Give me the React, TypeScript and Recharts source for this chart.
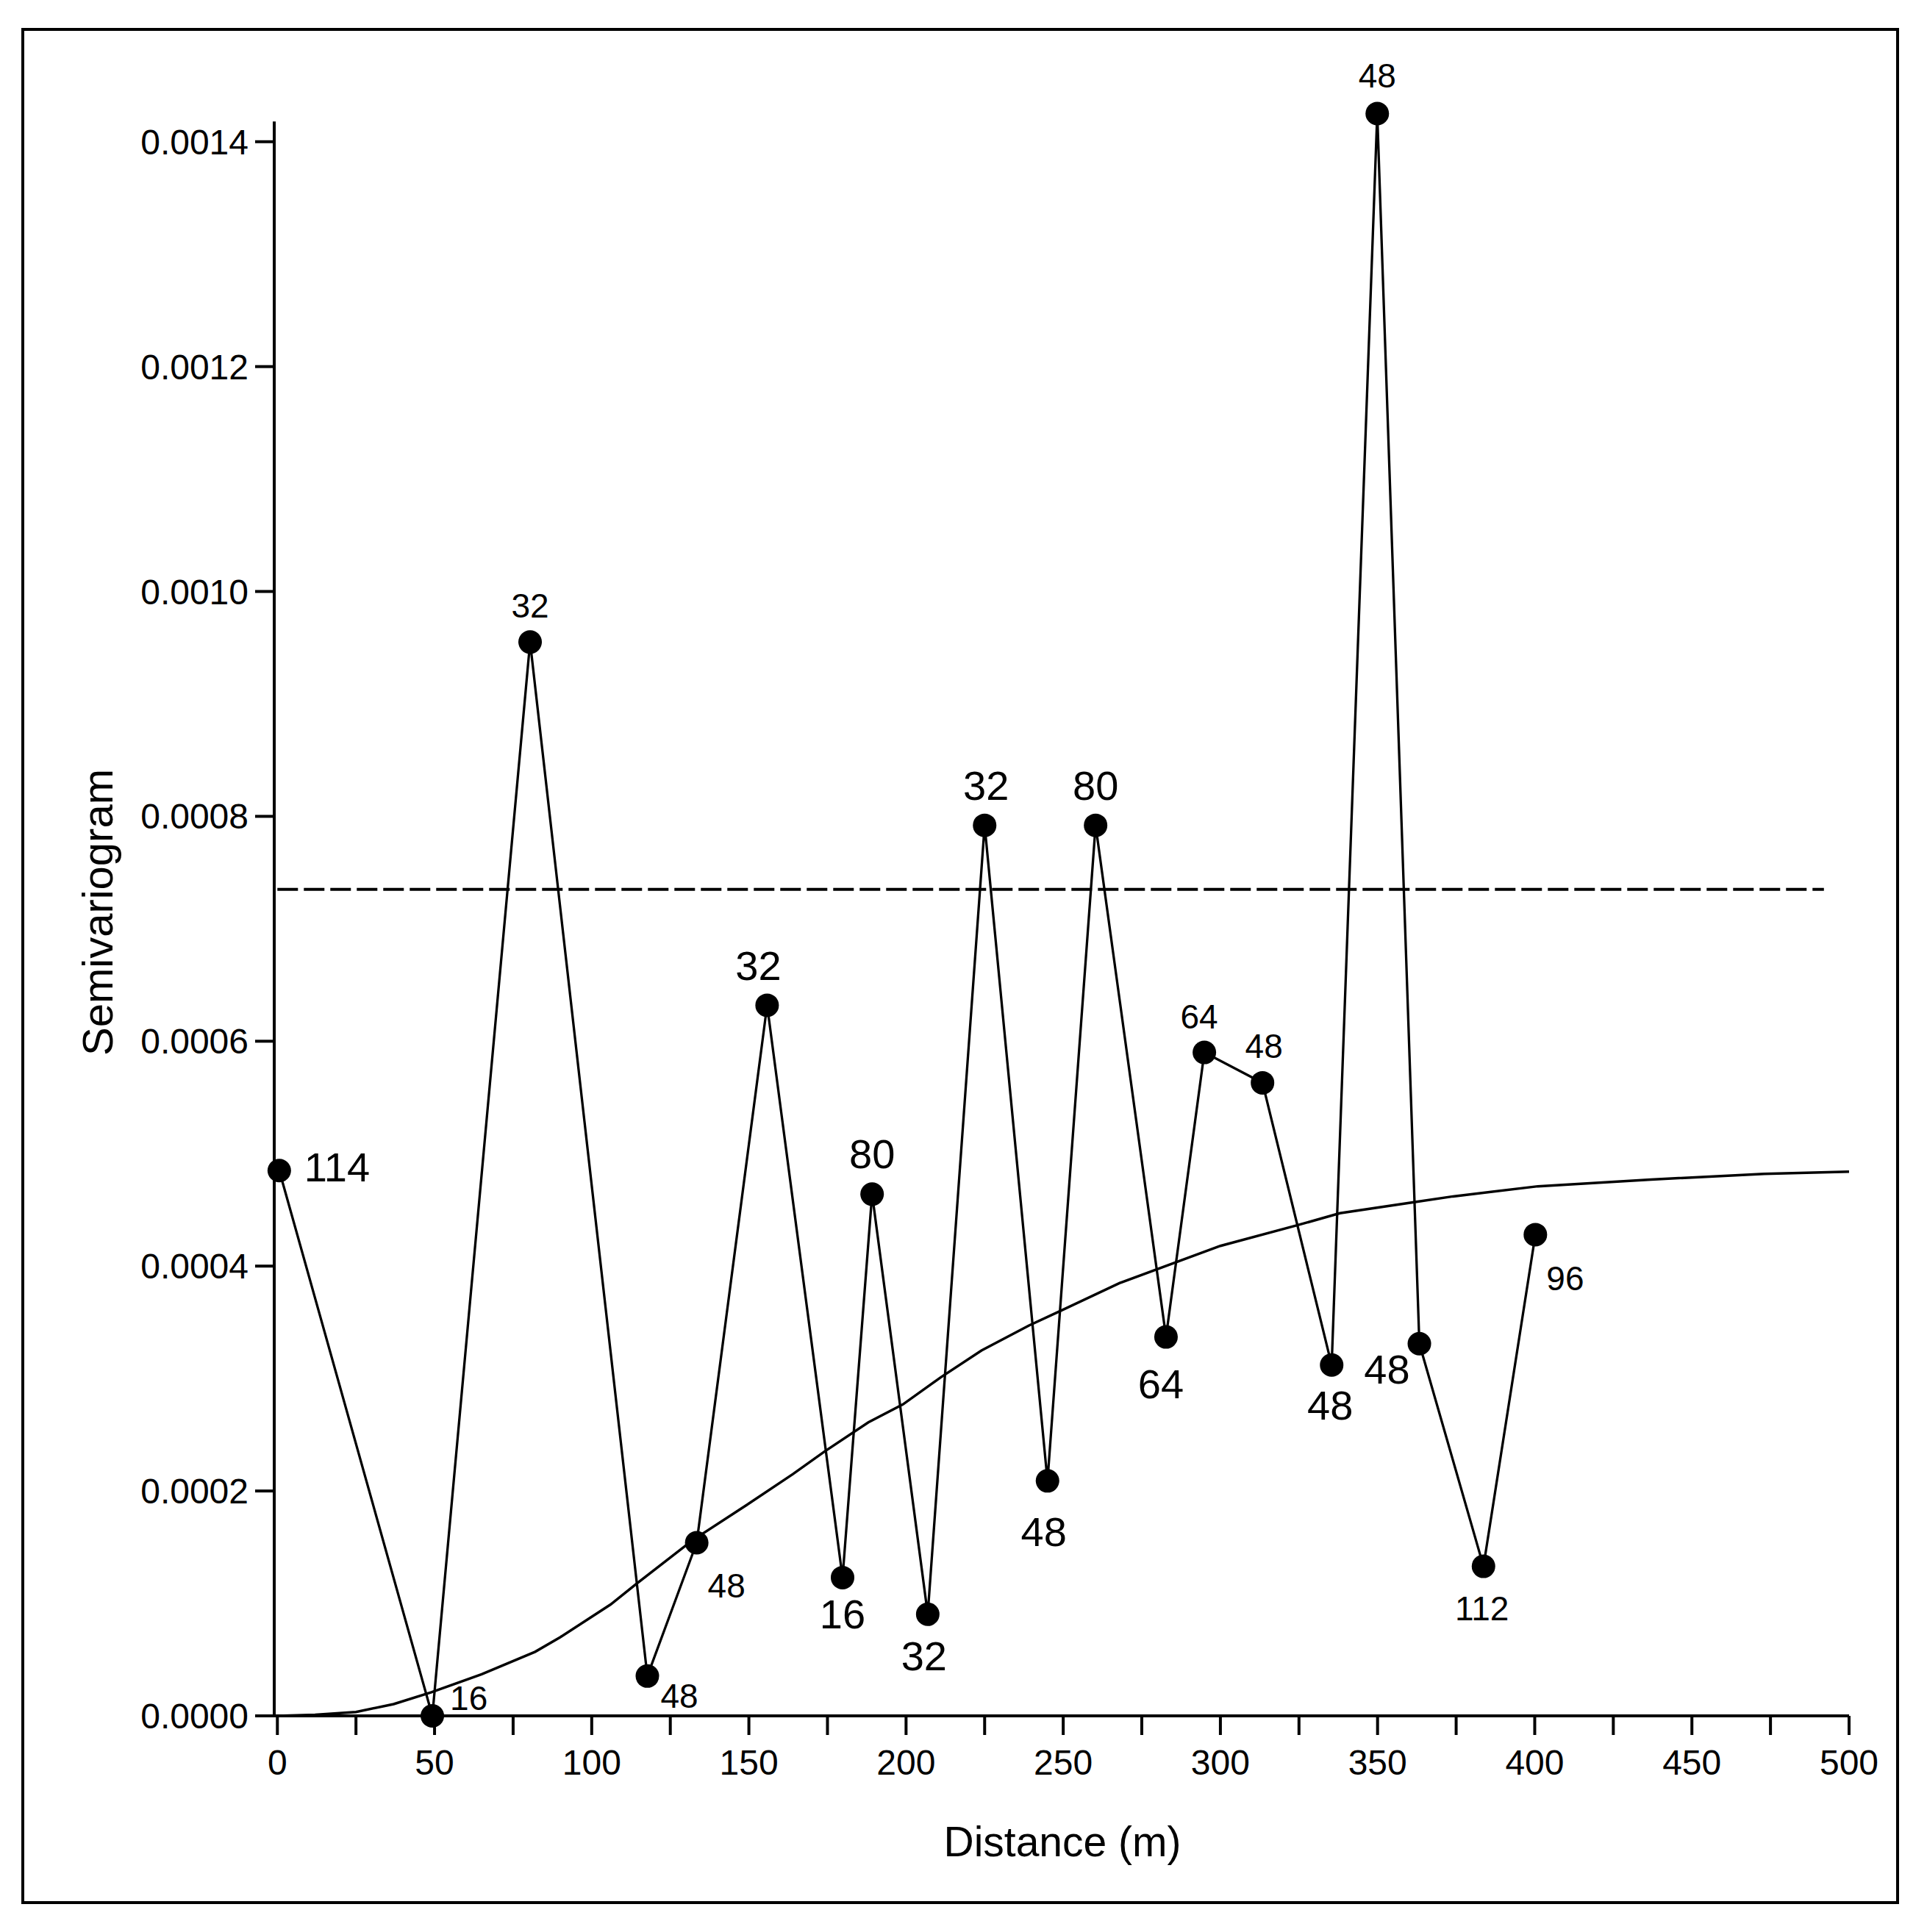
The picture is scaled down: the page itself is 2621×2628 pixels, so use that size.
import React from "react";
import { LineChart, Line, XAxis, YAxis, ReferenceLine } from "recharts";

// experimental semivariogram: lag distance (m), semivariance, number of pairs
const LAG_DISTANCE = [
  0.6, 49.3, 80.4, 117.7, 133.4, 155.8, 179.8, 189.2, 206.9, 225.0,
  245.0, 260.3, 282.7, 294.9, 313.4, 335.4, 349.9, 363.3, 383.7, 400.2,
];
const SEMIVARIANCE = [
  0.000485, 0.0, 0.000955, 0.0000354, 0.000154, 0.000632, 0.000123, 0.000464,
  0.0000904, 0.000792, 0.000209, 0.000792, 0.000337, 0.00059, 0.000563,
  0.000312, 0.001425, 0.000331, 0.000133, 0.000428,
];
const PAIR_COUNTS = [
  114, 16, 32, 48, 48, 32, 16, 80, 32, 32, 48, 80, 64, 64, 48, 48, 48, 48, 112, 96,
];

// fitted model curve
const MODEL_DISTANCE = [
  0, 12, 25, 37, 49, 65, 82, 90, 106, 114, 132, 149, 164, 174, 188, 199, 211,
  224, 239, 249, 268, 300, 324, 338, 362, 374, 401, 437, 473, 500,
];
const MODEL_GAMMA = [
  0, 0.000001, 0.0000035, 0.0000105, 0.000021, 0.000037, 0.000057, 0.00007,
  0.000099, 0.000117, 0.000156, 0.000187, 0.000215, 0.000235, 0.000261,
  0.000277, 0.000301, 0.000325, 0.000347, 0.00036, 0.000385, 0.000418,
  0.000436, 0.000447, 0.000457, 0.000462, 0.000471, 0.000477, 0.000482,
  0.000484,
];

// sample variance (dashed)
const SAMPLE_VARIANCE = 0.000735;
const SAMPLE_VARIANCE_END = 492;

const X_TICKS = [
  0, 25, 50, 75, 100, 125, 150, 175, 200, 225, 250, 275, 300, 325, 350, 375,
  400, 425, 450, 475, 500,
];
const Y_TICKS = [0, 0.0002, 0.0004, 0.0006, 0.0008, 0.001, 0.0012, 0.0014];
const Y_AXIS_TOP = 0.001418;

// where each pair-count label sits around its point
const LABEL_PLACE = [
  { big: true, anchor: "start", dx: 34, dy: -5 },
  { big: false, anchor: "start", dx: 24, dy: -24 },
  { big: false, anchor: "middle", dx: 0, dy: -49 },
  { big: false, anchor: "start", dx: 18, dy: 27 },
  { big: false, anchor: "start", dx: 15, dy: 59 },
  { big: true, anchor: "middle", dx: -12, dy: -54 },
  { big: true, anchor: "middle", dx: 0, dy: 50 },
  { big: true, anchor: "middle", dx: 0, dy: -55 },
  { big: true, anchor: "middle", dx: -5, dy: 57 },
  { big: true, anchor: "middle", dx: 2, dy: -54 },
  { big: true, anchor: "middle", dx: -5, dy: 69 },
  { big: true, anchor: "middle", dx: 0, dy: -54 },
  { big: true, anchor: "middle", dx: -7, dy: 64 },
  { big: false, anchor: "middle", dx: -7, dy: -49 },
  { big: false, anchor: "middle", dx: 2, dy: -50 },
  { big: true, anchor: "middle", dx: -2, dy: 55 },
  { big: false, anchor: "middle", dx: 0, dy: -52 },
  { big: true, anchor: "end", dx: -13, dy: 35 },
  { big: false, anchor: "middle", dx: -2, dy: 57 },
  { big: false, anchor: "start", dx: 15, dy: 60 },
];

const FONT = '"Liberation Sans", Arial, Helvetica, sans-serif';
const W = 2621;
const H = 2628;

const points = LAG_DISTANCE.map((x, i) => ({ x, y: SEMIVARIANCE[i], n: PAIR_COUNTS[i] }));
const model = MODEL_DISTANCE.map((x, i) => ({ x, y: MODEL_GAMMA[i] }));

const PointDot = (props: any) => {
  const { cx, cy, index } = props;
  if (cx == null || cy == null) return null;
  const p = LABEL_PLACE[index];
  return (
    <g key={`pt-${index}`}>
      <circle cx={cx} cy={cy} r={16} fill="#000" />
      <text
        x={cx + p.dx}
        y={cy + p.dy}
        textAnchor={p.anchor}
        dominantBaseline="central"
        fontSize={p.big ? 56 : 46}
        fontFamily={FONT}
        fill="#000"
      >
        {PAIR_COUNTS[index]}
      </text>
    </g>
  );
};

export default function App() {
  const tickStyle = { fill: "#000", fontSize: 48, fontFamily: FONT };
  const lineStyle = { stroke: "#000", strokeWidth: 4 };
  return (
    <div style={{ position: "relative", width: W, height: H, background: "#fff" }}>
      <style>{`body{margin:0;background:#fff}`}</style>
      <LineChart
        width={W}
        height={H}
        margin={{ top: 101, right: 106, bottom: 194, left: 173 }}
      >
        <XAxis
          type="number"
          dataKey="x"
          domain={[-1, 500]}
          ticks={X_TICKS}
          interval={0}
          tickFormatter={(v: number) => (v % 50 === 0 ? String(v) : "")}
          tick={tickStyle}
          tickSize={26}
          tickMargin={20}
          axisLine={lineStyle}
          tickLine={lineStyle}
          height={100}
        />
        <YAxis
          type="number"
          dataKey="y"
          domain={[0, 0.00146]}
          ticks={Y_TICKS}
          interval={0}
          tickFormatter={(v: number) => v.toFixed(4)}
          tick={tickStyle}
          tickSize={26}
          tickMargin={9}
          axisLine={false}
          tickLine={lineStyle}
          width={200}
        />
        <ReferenceLine
          segment={[
            { x: -1, y: 0 },
            { x: -1, y: Y_AXIS_TOP },
          ]}
          stroke="#000"
          strokeWidth={4}
        />
        <ReferenceLine
          segment={[
            { x: 0, y: SAMPLE_VARIANCE },
            { x: SAMPLE_VARIANCE_END, y: SAMPLE_VARIANCE },
          ]}
          stroke="#000"
          strokeWidth={4}
          strokeDasharray="28 8"
        />
        <Line
          data={model}
          dataKey="y"
          type="linear"
          stroke="#000"
          strokeWidth={3.5}
          dot={false}
          activeDot={false}
          isAnimationActive={false}
        />
        <Line
          data={points}
          dataKey="y"
          type="linear"
          stroke="#000"
          strokeWidth={3.3}
          dot={PointDot}
          activeDot={false}
          isAnimationActive={false}
        />
      </LineChart>
      <svg
        width={W}
        height={H}
        style={{ position: "absolute", left: 0, top: 0, pointerEvents: "none" }}
      >
        <text x={1445} y={2525} textAnchor="middle" fontSize={57} fontFamily={FONT} fill="#000">
          Distance (m)
        </text>
        <text
          transform="translate(153,1241) rotate(-90)"
          textAnchor="middle"
          fontSize={58}
          fontFamily={FONT}
          fill="#000"
        >
          Semivariogram
        </text>
      </svg>
      <div
        style={{
          position: "absolute",
          left: 29,
          top: 38,
          width: 2554,
          height: 2552,
          border: "4px solid #000",
          boxSizing: "border-box",
          pointerEvents: "none",
        }}
      />
    </div>
  );
}
